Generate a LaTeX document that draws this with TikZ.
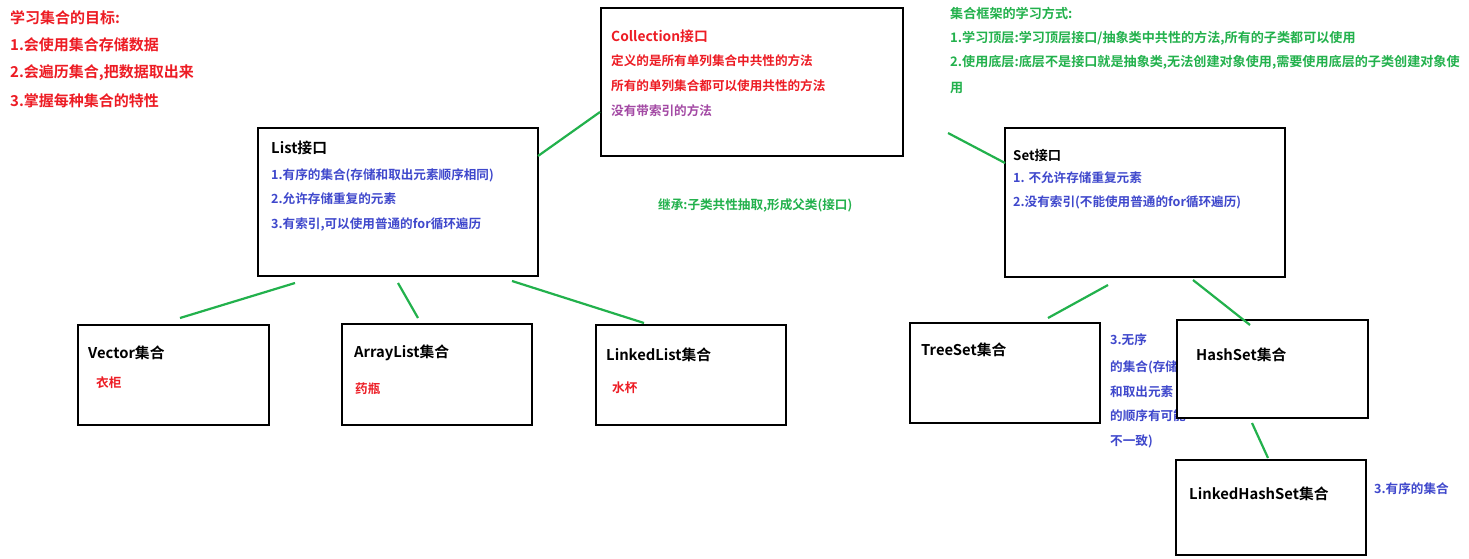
\documentclass[tikz,border=0pt]{standalone}
\usepackage{fontspec}
\setmainfont{Noto Sans CJK SC}[BoldFont={* Bold}]
\definecolor{gr}{RGB}{34,177,76}
\definecolor{rd}{RGB}{237,28,36}
\definecolor{bl}{RGB}{63,72,204}
\definecolor{pu}{RGB}{163,73,164}
\begin{document}
\begin{tikzpicture}[x=1pt,y=-1pt,
 box/.style={draw=black,line width=2.5pt,fill=white},
 link/.style={draw=gr,line width=2.2pt},
 t/.style={anchor=west,inner sep=0pt,font=\bfseries\fontsize{12.6}{14}\selectfont},
 gt/.style={t,text=gr,font=\bfseries\fontsize{13.1}{15}\selectfont},
 title/.style={t,font=\bfseries\fontsize{14.8}{16}\selectfont,text=black}]
\useasboundingbox (0,0) rectangle (1469,559);
\fill[white] (0,0) rectangle (1469,559);
% top-left
\node[t,text=rd,font=\bfseries\fontsize{15}{16}\selectfont] (g0) at (10,18) {学习集合的目标:};
\node[t,text=rd,font=\bfseries\fontsize{15}{16}\selectfont] (g1) at (10,45) {1.会使用集合存储数据};
\node[t,text=rd,font=\bfseries\fontsize{15}{16}\selectfont] (g2) at (10,73) {2.会遍历集合,把数据取出来};
\node[t,text=rd,font=\bfseries\fontsize{15}{16}\selectfont] (g3) at (10,101) {3.掌握每种集合的特性};
% top-right green
\node[gt] (w0) at (950,13) {集合框架的学习方式:};
\node[gt] (w1) at (950,38) {1.学习顶层:学习顶层接口/抽象类中共性的方法,所有的子类都可以使用};
\node[gt] (w2) at (950,62) {2.使用底层:底层不是接口就是抽象类,无法创建对象使用,需要使用底层的子类创建对象使};
\node[gt] (w3) at (950,88) {用};
\node[t,text=gr] (inh) at (658,205) {继承:子类共性抽取,形成父类(接口)};
% blue text under HashSet
\node[t,text=bl] (u0) at (1110,340) {3.无序};
\node[t,text=bl] (u1) at (1110,367) {的集合(存储};
\node[t,text=bl] (u2) at (1110,392) {和取出元素};
\node[t,text=bl] (u3) at (1110,416) {的顺序有可能};
\node[t,text=bl] (u4) at (1110,441) {不一致)};
\node[t,text=bl] (o0) at (1374,489) {3.有序的集合};
% boxes
\draw[box] (601,8) rectangle (903,156);
\draw[box] (258,128) rectangle (538,276);
\draw[box] (1005,128) rectangle (1285,277);
\draw[box] (78,325) rectangle (269,425);
\draw[box] (342,324) rectangle (532,425);
\draw[box] (596,325) rectangle (786,425);
\draw[box] (910,323) rectangle (1100,423);
\draw[box] (1177,320) rectangle (1368,418);
\draw[box] (1176,460) rectangle (1366,555);
% collection
\node[t,text=rd,font=\bfseries\fontsize{13.8}{15}\selectfont] (c0) at (611,36) {Collection接口};
\node[t,text=rd] (c1) at (611,61) {定义的是所有单列集合中共性的方法};
\node[t,text=rd] (c2) at (611,86) {所有的单列集合都可以使用共性的方法};
\node[t,text=pu] (c3) at (611,111) {没有带索引的方法};
% list
\node[title] (l0) at (271,148) {List接口};
\node[t,text=bl] (l1) at (271,175) {1.有序的集合(存储和取出元素顺序相同)};
\node[t,text=bl] (l2) at (271,199) {2.允许存储重复的元素};
\node[t,text=bl] (l3) at (271,224) {3.有索引,可以使用普通的for循环遍历};
% set
\node[title,font=\bfseries\fontsize{13.3}{15}\selectfont] (s0) at (1013,155) {Set接口};
\node[t,text=bl] (s1) at (1013,178) {1. 不允许存储重复元素};
\node[t,text=bl] (s2) at (1013,202) {2.没有索引(不能使用普通的for循环遍历)};
% leaves
\node[title] (v) at (88,353) {Vector集合};
\node[t,text=rd] (v1) at (96,383) {衣柜};
\node[title] (a) at (354,353) {ArrayList集合};
\node[t,text=rd] (a1) at (355,389) {药瓶};
\node[title] (ll) at (606,355) {LinkedList集合};
\node[t,text=rd] (ll1) at (612,388) {水杯};
\node[title] (ts) at (921,350) {TreeSet集合};
\node[title] (hs) at (1196,355) {HashSet集合};
\node[title] (lhs) at (1189,494) {LinkedHashSet集合};
% connectors
\coordinate (p1) at (538,156); \coordinate (q1) at (600,112);
\coordinate (p2) at (948,133); \coordinate (q2) at (1005,163);
\coordinate (p3) at (295,283); \coordinate (q3) at (180,318);
\coordinate (p4) at (398,283); \coordinate (q4) at (418,318);
\coordinate (p5) at (512,281); \coordinate (q5) at (644,323);
\coordinate (p6) at (1108,285); \coordinate (q6) at (1048,318);
\coordinate (p7) at (1193,280); \coordinate (q7) at (1250,325);
\coordinate (p8) at (1252,423); \coordinate (q8) at (1268,458);
\foreach \i in {1,...,8} {\draw[link] (p\i) -- (q\i);}
\end{tikzpicture}
\end{document}
